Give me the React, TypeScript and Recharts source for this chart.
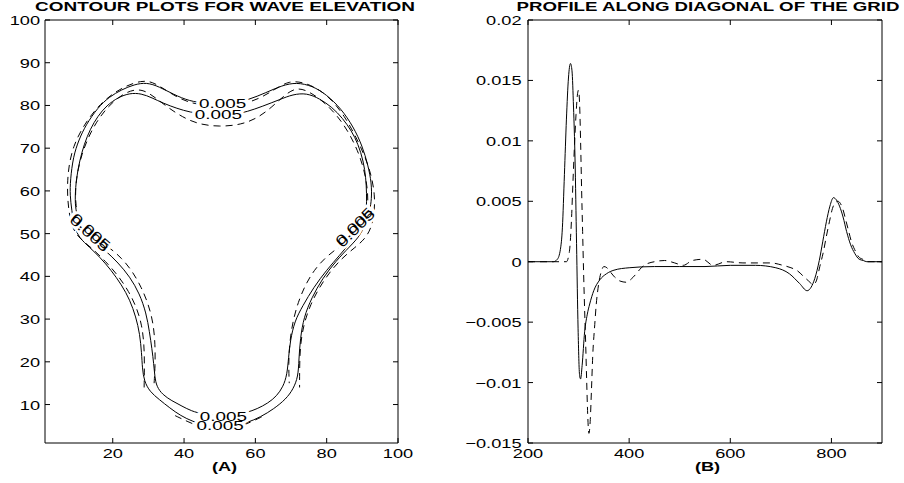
import React from "react";
import { LineChart, Line, XAxis, YAxis } from "recharts";

const FONT = "'Liberation Sans', Arial, Helvetica, sans-serif";
const STRETCH = 1.4;

type Pt = [number, number];

// ---- panel A: contour lines (grid coordinates) ----
const gridTicksX = [20, 40, 60, 80, 100];
const gridTicksY = [10, 20, 30, 40, 50, 60, 70, 80, 90, 100];

const outerSolid: Pt[] = [
  [46, 80.5], [50, 80.4], [54, 80.6], [58, 81.3], [63, 83], [67.5, 84.7], [71.5, 85.4], [76, 84.6],
  [80, 82.5], [84, 79.3], [87.5, 75], [90, 70.5], [91.6, 66], [92.6, 61.8], [92.6, 58], [92.1, 55.5],
  [91.2, 53], [89.5, 49.6], [86.5, 47], [82.5, 43.5], [78.8, 39.5], [75.8, 35], [73.6, 30.5], [72.6, 25.5],
  [72.2, 20.5], [72, 16.5], [70.6, 13.6], [68.6, 11.3], [65.2, 9], [61.5, 7.1], [57.6, 5.7], [54, 5],
  [50, 4.8], [46, 5.1], [42.5, 6], [39, 7.4], [36, 9.2], [33, 11.2], [30.4, 13], [28.8, 15.5],
  [28.3, 18.5], [28.1, 22], [27.6, 26.5], [26.5, 30.5], [24.8, 34.5], [22.5, 38], [19.5, 41.5], [16.5, 44.4],
  [13.5, 46.8], [10.6, 49], [9.2, 51.6], [8.5, 55.5], [8, 59], [8.1, 62.5], [8.9, 68], [10.5, 72],
  [12.5, 75.5], [15.8, 79.5], [19, 82], [22.5, 83.7], [26, 84.9], [29.5, 85.4], [33, 84.4], [37, 82.6],
  [41.5, 81],
];

const innerSolid: Pt[] = [
  [46, 77.9], [50, 77.7], [54, 77.9], [57.6, 78.5], [62, 79.8], [66.9, 81.4], [70.5, 82.6], [74.4, 82.9],
  [78, 81.6], [81.5, 79.6], [84.5, 77], [87, 74], [88.8, 71], [90.3, 67], [91, 63], [91.2, 59.4],
  [91.2, 55.5], [90.5, 52.5], [89, 50.3], [86.5, 47.8], [83.7, 45], [80, 41.5], [76.4, 37.5], [73.2, 33],
  [71, 29.5], [69.8, 25], [69.3, 21], [68.9, 17], [67.8, 14.2], [66, 12], [63.5, 10.3], [60.5, 9],
  [57.6, 8.1], [54, 7.6], [50, 7.4], [45.4, 7.7], [42, 8.5], [39.5, 9.6], [36.5, 10.9], [34, 12.3],
  [32.3, 14.2], [31.8, 16.5], [31.5, 19.5], [31, 23], [30.3, 27], [29.4, 31.4], [27.5, 36], [24.8, 39.9],
  [21.5, 43.2], [18, 46], [15, 48], [12.5, 50.2], [10.5, 52.8], [9.6, 55.5], [9.4, 58.6], [9.8, 63],
  [10.7, 67], [12, 71], [13.7, 74.5], [15.8, 77.5], [18.3, 80], [21.5, 81.9], [24.8, 82.9], [28, 82.8],
  [31, 81.8], [34.2, 80.5], [38, 79.3], [41.7, 78.4],
];

const outerDashed: Pt[] = [
  [28.8, 14], [28.9, 19], [28.8, 24], [28.2, 28.5], [26.8, 32.5], [24.5, 36.5], [21.5, 40.2], [18, 43.5],
  [14.3, 46.5], [10.8, 48.8], [8.8, 51], [7.8, 54.5], [7.3, 58.5], [7.3, 62.5], [7.8, 66.5], [9, 70.5],
  [11, 74], [13.5, 77.3], [16.5, 80.3], [20, 82.8], [24, 84.7], [28, 85.8], [31, 85.6], [34.5, 83.8],
  [39, 81.4], [44, 80.1], [50, 79.8], [56, 80.2], [61, 81.5], [65.5, 83.8], [69.5, 85.8], [73.5, 85.4],
  [77.5, 84], [81.5, 81.3], [85, 77.5], [88, 73], [90.8, 68], [92.6, 63.5], [93.5, 59], [93.4, 55],
  [92.6, 51.5], [90.8, 48.8], [88, 46.8], [84.6, 44.5], [81, 41.2], [78, 37.5], [75.5, 33.5], [73.6, 29],
  [72.6, 24], [72.4, 19], [72.4, 14],
];

const innerDashed: Pt[] = [
  [31.6, 15], [31.9, 19], [31.9, 24], [31.4, 29], [30, 33.5], [28, 37.5], [25.5, 41.2], [22.5, 44.3],
  [19, 46.8], [15.5, 48.6], [12.5, 50.3], [10.5, 53], [9.6, 56.5], [9.5, 60.5], [10.1, 64.5], [11.3, 68.5],
  [13, 72.3], [15.3, 76], [18.2, 79.3], [21.5, 81.9], [25, 83.6], [28.5, 83.8], [32, 81.8], [35.5, 79.5],
  [39.5, 77.3], [44, 75.6], [50, 75], [56, 75.5], [60.5, 77], [64.5, 79.5], [68, 82.3], [71.5, 84.3],
  [75, 83.3], [79, 81], [82.8, 77.8], [86, 74], [88.7, 69.5], [90.5, 65], [91.5, 60.5], [91.6, 56],
  [90.9, 52.5], [89, 49.8], [86, 48.2], [82.8, 46.5], [79.5, 44.3], [76.5, 41.5], [74, 38], [72, 34],
  [70.5, 29.5], [69.6, 24.5], [69.3, 19.5], [69.5, 15],
];

const bottomDashed: Pt[] = [
  [37.5, 7.4], [41, 6], [45, 4.6], [50, 4.0], [55, 4.6], [59, 6], [62.5, 7.4],
];

// inline contour labels: position on the grid and text angle
const contourLabels = [
  { x: 50.8, y: 80.5, angle: 0 },
  { x: 49.6, y: 77.9, angle: 0 },
  { x: 51, y: 7.3, angle: 0 },
  { x: 50.1, y: 5.1, angle: 0 },
  { x: 13.4, y: 50.0, angle: 42 },
  { x: 13.9, y: 50.5, angle: 42 },
  { x: 87.7, y: 51.7, angle: -45 },
  { x: 88.2, y: 51.2, angle: -45 },
];

// ---- panel B: profile along the diagonal ----
const profileTicksX = [200, 400, 600, 800];
const profileTicksY = [-0.015, -0.01, -0.005, 0, 0.005, 0.01, 0.015, 0.02];

const profileSolid: Pt[] = [
  [200, 0], [250, 0], [258, 0.0002], [264, 0.001], [268, 0.0028], [272, 0.0072], [276, 0.0118], [280, 0.0152],
  [284, 0.0164], [287, 0.0158], [290, 0.0128], [293, 0.0085], [296, 0.0015], [299, -0.0055], [302, -0.0094],
  [304, -0.0097], [307, -0.0086], [312, -0.0058], [317, -0.0044], [322, -0.0035], [330, -0.0024], [342, -0.0015],
  [355, -0.001], [370, -0.0007], [400, -0.0005], [450, -0.0004], [500, -0.0004], [550, -0.0004], [600, -0.0003],
  [650, -0.0003], [690, -0.0005], [717, -0.001], [737, -0.0018], [752, -0.0024], [760, -0.0021], [767, -0.0014],
  [776, 0.0001], [783, 0.0017], [790, 0.0033], [797, 0.0046], [804, 0.0053], [810, 0.0051], [816, 0.0046],
  [823, 0.0037], [830, 0.0025], [838, 0.0014], [846, 0.0007], [855, 0.0002], [863, 0.0001], [870, 0], [900, 0],
];

const profileDashed: Pt[] = [
  [200, 0], [276, 0], [280, 0.0004], [283, 0.0013], [286, 0.0035], [289, 0.0067], [292, 0.0097], [295, 0.0122],
  [298, 0.0139], [300, 0.0142], [302, 0.0131], [304, 0.01], [306, 0.006], [308, 0.0025], [310, -0.001],
  [312, -0.004], [314, -0.0067], [316, -0.0098], [318, -0.0126], [320.5, -0.0142], [323, -0.0132], [325.5, -0.0106],
  [328, -0.0078], [332, -0.0052], [335, -0.0035], [338.5, -0.0022], [342, -0.0013], [345, -0.0008], [350, -0.0004],
  [356, -0.0005], [362, -0.0008], [372, -0.0013], [382, -0.0016], [395, -0.0017], [405, -0.0014], [414, -0.001],
  [424, -0.0005], [434, -0.0002], [450, 0], [470, 0.0001], [490, -0.0001], [507, -0.0003], [525, 0.0001],
  [546, 0.0002], [566, -0.0003], [592, 0], [625, -0.0001], [680, -0.0001], [704, -0.0003], [720, -0.0005],
  [731, -0.0007], [747, -0.0013], [755, -0.0016], [764, -0.0019], [770, -0.0016], [777, -0.0004], [784, 0.0008],
  [790, 0.0021], [796, 0.0033], [802, 0.0044], [808, 0.0049], [813, 0.005], [818, 0.0048], [823, 0.0043],
  [828, 0.0035], [833, 0.0027], [840, 0.0016], [846, 0.001], [854, 0.0004], [862, 0.0002], [872, 0], [900, 0],
];

const toRows = (pts: Pt[]) => pts.map(([x, y]) => ({ x, y }));
const fmt = (v: number) => (v < 0 ? "\u2212" + String(-v) : String(v));

// ticks point into the box, labels sit outside (matlab style)
const leftTick = (gap: number) => (props: any) => {
  const { x, y, payload } = props;
  return (
    <g>
      <line x1={x} y1={y} x2={x + 5} y2={y} stroke="#000" />
      <text
        transform={`translate(${x - gap},${y + 5}) scale(${STRETCH},1)`}
        textAnchor="end"
        fontSize={13}
        fontFamily={FONT}
        fill="#000"
      >
        {fmt(payload.value)}
      </text>
    </g>
  );
};

const bottomTick = (props: any) => {
  const { x, y, payload } = props;
  return (
    <g>
      <line x1={x} y1={y} x2={x} y2={y - 5} stroke="#000" />
      <text
        transform={`translate(${x},${y + 15}) scale(${STRETCH},1)`}
        textAnchor="middle"
        fontSize={13}
        fontFamily={FONT}
        fill="#000"
      >
        {fmt(payload.value)}
      </text>
    </g>
  );
};

const rightTick = (props: any) => <line x1={props.x} y1={props.y} x2={props.x - 5} y2={props.y} stroke="#000" />;
const topTick = (props: any) => <line x1={props.x} y1={props.y} x2={props.x} y2={props.y + 5} stroke="#000" />;

// labels are drawn as the dots of two invisible series placed after the contours:
// first a wide white halo pass that breaks the lines, then the text
const labelDot = (halo: boolean) => (p: any) => (
  <text
    key={p.index}
    transform={`translate(${p.cx},${p.cy}) rotate(${p.payload.angle}) scale(1.45,1)`}
    textAnchor="middle"
    dy={4.5}
    fontSize={13}
    fontFamily={FONT}
    fill={halo ? "#fff" : "#000"}
    stroke={halo ? "#fff" : "none"}
    strokeWidth={halo ? 5 : 0}
    strokeLinejoin="round"
  >
    0.005
  </text>
);

const MARGIN = { top: 19, bottom: 39 };

function BoxAxes({ ticksX, ticksY, domainX, domainY, gap }: any) {
  return [
    <XAxis key="b" xAxisId="b" type="number" dataKey="x" domain={domainX} ticks={ticksX} interval={0}
      allowDataOverflow height={1} tickSize={0} tickMargin={0} stroke="#000" tickLine={false} tick={bottomTick} />,
    <XAxis key="t" xAxisId="t" orientation="top" type="number" dataKey="x" domain={domainX} ticks={ticksX} interval={0}
      allowDataOverflow height={1} tickSize={0} tickMargin={0} stroke="#000" tickLine={false} tick={topTick} />,
    <YAxis key="l" yAxisId="l" type="number" domain={domainY} ticks={ticksY} interval={0}
      allowDataOverflow width={1} tickSize={0} tickMargin={0} stroke="#000" tickLine={false} tick={leftTick(gap)} />,
    <YAxis key="r" yAxisId="r" orientation="right" type="number" domain={domainY} ticks={ticksY} interval={0}
      allowDataOverflow width={1} tickSize={0} tickMargin={0} stroke="#000" tickLine={false} tick={rightTick} />,
  ];
}

function ContourPanel() {
  return (
    <LineChart width={452} height={483} margin={{ ...MARGIN, left: 44, right: 53 }}>
      {BoxAxes({ ticksX: gridTicksX, ticksY: gridTicksY, domainX: [1, 100], domainY: [1, 100], gap: 5 })}
      <Line xAxisId="b" yAxisId="l" data={toRows(outerSolid)} dataKey="y" type="basisClosed" stroke="#000"
        strokeWidth={1} dot={false} isAnimationActive={false} />
      <Line xAxisId="b" yAxisId="l" data={toRows(innerSolid)} dataKey="y" type="basisClosed" stroke="#000"
        strokeWidth={1} dot={false} isAnimationActive={false} />
      <Line xAxisId="b" yAxisId="l" data={toRows(outerDashed)} dataKey="y" type="basis" stroke="#000"
        strokeWidth={1} strokeDasharray="7 5" dot={false} isAnimationActive={false} />
      <Line xAxisId="b" yAxisId="l" data={toRows(innerDashed)} dataKey="y" type="basis" stroke="#000"
        strokeWidth={1} strokeDasharray="7 5" dot={false} isAnimationActive={false} />
      <Line xAxisId="b" yAxisId="l" data={toRows(bottomDashed)} dataKey="y" type="basis" stroke="#000"
        strokeWidth={1} strokeDasharray="7 5" dot={false} isAnimationActive={false} />
      <Line xAxisId="b" yAxisId="l" data={contourLabels} dataKey="y" stroke="none" dot={labelDot(true)}
        activeDot={false} isAnimationActive={false} />
      <Line xAxisId="b" yAxisId="l" data={contourLabels} dataKey="y" stroke="none" dot={labelDot(false)}
        activeDot={false} isAnimationActive={false} />
    </LineChart>
  );
}

function ProfilePanel() {
  return (
    <LineChart width={452} height={483} margin={{ ...MARGIN, left: 75, right: 21 }}>
      {BoxAxes({ ticksX: profileTicksX, ticksY: profileTicksY, domainX: [200, 900], domainY: [-0.015, 0.02], gap: 6.5 })}
      <Line xAxisId="b" yAxisId="l" data={toRows(profileSolid)} dataKey="y" type="monotone" stroke="#000"
        strokeWidth={1} dot={false} isAnimationActive={false} />
      <Line xAxisId="b" yAxisId="l" data={toRows(profileDashed)} dataKey="y" type="monotone" stroke="#000"
        strokeWidth={1} strokeDasharray="7 5" dot={false} isAnimationActive={false} />
    </LineChart>
  );
}

export default function App() {
  return (
    <div style={{ position: "absolute", left: 0, top: 0, width: 904, height: 483, background: "#fff" }}>
      <div style={{ position: "absolute", left: 0, top: 0 }}>
        <ContourPanel />
      </div>
      <div style={{ position: "absolute", left: 452, top: 0 }}>
        <ProfilePanel />
      </div>
      <svg width={904} height={483} style={{ position: "absolute", left: 0, top: 0, pointerEvents: "none" }}>
        <g fontFamily={FONT} fontWeight="bold" fill="#000">
          <text x={225} y={10.7} textAnchor="middle" fontSize={12.5} textLength={380} lengthAdjust="spacingAndGlyphs">
            CONTOUR PLOTS FOR WAVE ELEVATION
          </text>
          <text x={708} y={10.7} textAnchor="middle" fontSize={12.5} textLength={383} lengthAdjust="spacingAndGlyphs">
            PROFILE ALONG DIAGONAL OF THE GRID
          </text>
          <text transform={`translate(224.5,471) scale(${STRETCH},1)`} textAnchor="middle" fontSize={13}>(A)</text>
          <text transform={`translate(707.5,471) scale(${STRETCH},1)`} textAnchor="middle" fontSize={13}>(B)</text>
        </g>
      </svg>
    </div>
  );
}
